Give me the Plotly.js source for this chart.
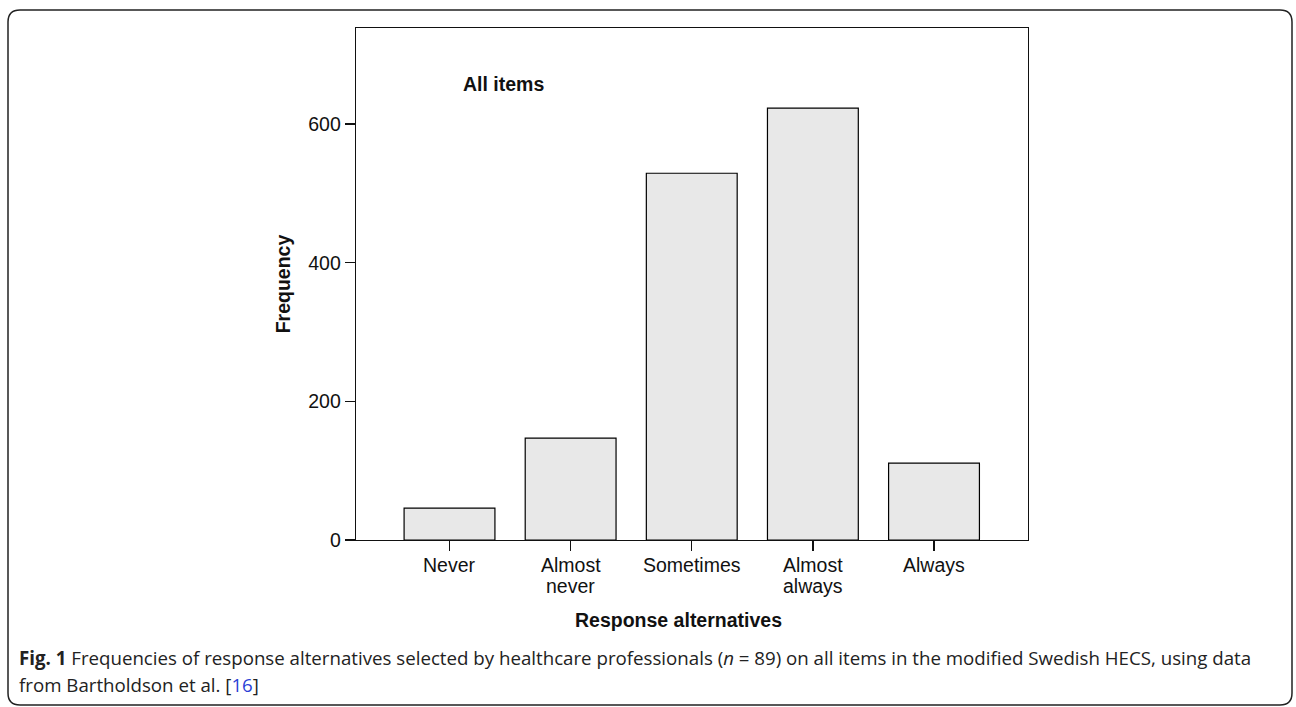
<!DOCTYPE html>
<html>
<head>
<meta charset="utf-8">
<script src="https://cdn.plot.ly/plotly-3.0.1.min.js"></script>
<style>html,body{margin:0;padding:0;background:#fff;}#chart{width:1296px;height:707px;}</style>
</head>
<body>
<div id="chart"></div>
<script>
const categories = ["Never", "Almost never", "Sometimes", "Almost always", "Always"];
const categoryLines = [["Never"], ["Almost", "never"], ["Sometimes"], ["Almost", "always"], ["Always"]];
const frequencies = [46, 147, 529, 623, 111];
const yTickValues = [0, 200, 400, 600];
const yTickLabels = ["0", "200", "400", "600"];

const W = 1296, H = 707;
const L = 356, R = 1028, T = 28, B = 540;
const pw = R - L, ph = B - T;
function px(x) { return (x - L) / pw; }
function py(y) { return (B - y) / ph; }

// rounded outer border in paper coords
const bx0 = 8, bx1 = 1292, by0 = 10, by1 = 705, rad = 12;
const rx = rad / pw, ry = rad / ph;
const X0 = px(bx0), X1 = px(bx1), Y0 = py(by0), Y1 = py(by1);
const borderPath =
  `M ${X0 + rx},${Y0} L ${X1 - rx},${Y0} Q ${X1},${Y0} ${X1},${Y0 - ry} ` +
  `L ${X1},${Y1 + ry} Q ${X1},${Y1} ${X1 - rx},${Y1} ` +
  `L ${X0 + rx},${Y1} Q ${X0},${Y1} ${X0},${Y1 + ry} ` +
  `L ${X0},${Y0 - ry} Q ${X0},${Y0} ${X0 + rx},${Y0} Z`;

const font = "Liberation Sans, Arial, sans-serif";
const fs = 19.5;
const ink = "#111";

const xIdx = categories.map((c, i) => i);

const trace = {
  type: "bar",
  x: xIdx,
  y: frequencies,
  text: categories,
  width: 0.75,
  marker: { color: "#e8e8e8", line: { color: "#000", width: 1.2 } },
  hoverinfo: "text+y",
  textposition: "none"
};

const annotations = [
  { xref: "paper", yref: "paper", x: px(461), y: py(84), xanchor: "left", yanchor: "middle",
    text: "<b>All items</b>", showarrow: false, font: { family: font, size: fs, color: ink } },
  { xref: "paper", yref: "paper", x: px(678), y: py(620), xanchor: "center", yanchor: "middle",
    text: "<b>Response alternatives</b>", showarrow: false, font: { family: font, size: fs, color: ink } },
  { xref: "paper", yref: "paper", x: px(17), y: py(657), xanchor: "left", yanchor: "middle", align: "left",
    text: "<b>Fig. 1</b> Frequencies of response alternatives selected by healthcare professionals (<i>n</i> = 89) on all items in the modified Swedish HECS, using data",
    showarrow: false, font: { family: "Open Sans, sans-serif", size: 18.7, color: "#222" } },
  { xref: "paper", yref: "paper", x: px(17), y: py(684), xanchor: "left", yanchor: "middle", align: "left",
    text: "from Bartholdson et al. [<span style=\"color:#2a3fd6\">16</span>]",
    showarrow: false, font: { family: "Open Sans, sans-serif", size: 18.7, color: "#222" } }
];
categoryLines.forEach((lines, i) => {
  lines.forEach((ln, j) => {
    annotations.push({
      xref: "x", yref: "paper", x: xIdx[i], y: py(565 + j * 20.5),
      xanchor: "center", yanchor: "middle", text: ln, showarrow: false,
      font: { family: font, size: fs, color: ink }
    });
  });
});

const layout = {
  width: W, height: H,
  margin: { l: L, r: W - R, t: T, b: H - B, pad: 0 },
  paper_bgcolor: "#fff",
  plot_bgcolor: "#fff",
  showlegend: false,
  font: { family: font, size: fs, color: ink },
  xaxis: {
    range: [-0.772, 4.776],
    tickvals: xIdx,
    showticklabels: false,
    ticks: "outside", ticklen: 10, tickwidth: 1.3, tickcolor: ink,
    showline: true, linecolor: ink, linewidth: 1.3, mirror: true,
    showgrid: false, zeroline: false,
    fixedrange: true
  },
  yaxis: {
    range: [0, 738.5],
    tickvals: yTickValues,
    ticktext: yTickLabels,
    ticks: "outside", ticklen: 10, tickwidth: 1.3, tickcolor: ink,
    showline: true, linecolor: ink, linewidth: 1.3, mirror: true,
    showgrid: false, zeroline: false,
    tickfont: { family: font, size: fs, color: ink },
    title: { text: "<b>Frequency</b>", font: { family: font, size: fs, color: ink }, standoff: 12 },
    fixedrange: true
  },
  shapes: [
    { type: "path", xref: "paper", yref: "paper", path: borderPath,
      line: { color: "#222", width: 1.5 }, fillcolor: "rgba(0,0,0,0)", layer: "below" }
  ],
  annotations: annotations
};

Plotly.newPlot("chart", [trace], layout, { displayModeBar: false, staticPlot: true });
</script>
</body>
</html>
